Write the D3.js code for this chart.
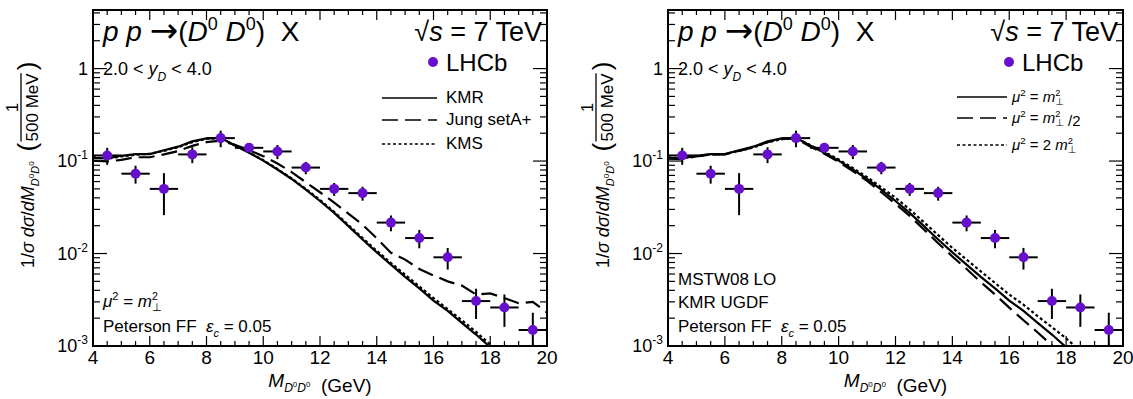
<!DOCTYPE html>
<html>
<head>
<meta charset="utf-8">
<script src="https://cdn.jsdelivr.net/npm/d3@7"></script>
<style>
  body { margin: 0; background: #fff; }
  text { font-family: "Liberation Sans", Arial, Helvetica, sans-serif; fill: #000; }
</style>
</head>
<body>
<svg width="1133" height="399"></svg>
<script>
// LHCb points, 1 GeV bins
var massBins = [4.5, 5.5, 6.5, 7.5, 8.5, 9.5, 10.5, 11.5, 12.5, 13.5, 14.5, 15.5, 16.5, 17.5, 18.5, 19.5];
var lhcbValues = [0.115, 0.073, 0.050, 0.118, 0.177, 0.139, 0.127, 0.085, 0.050, 0.045, 0.0216, 0.0147, 0.0091, 0.00306, 0.00261, 0.00149];
var lhcbErrors = [0.024, 0.016, 0.024, 0.023, 0.036, 0.017, 0.022, 0.013, 0.008, 0.0077, 0.0042, 0.0033, 0.0024, 0.0011, 0.0010, 0.0008];

// theory curves, sampled every 0.5 GeV
var curveMass = [4.0, 4.5, 5.0, 5.5, 6.0, 6.5, 7.0, 7.5, 8.0, 8.5, 9.0, 9.5, 10.0, 10.5, 11.0, 11.5, 12.0,
  12.5, 13.0, 13.5, 14.0, 14.5, 15.0, 15.5, 16.0, 16.5, 17.0, 17.5, 18.0, 18.5, 19.0, 19.5, 20.0];
var kmrValues = [0.108, 0.107, 0.114, 0.119, 0.119, 0.131, 0.143, 0.163, 0.176, 0.178, 0.147, 0.123, 0.101,
  0.081, 0.064, 0.049, 0.037, 0.0275, 0.0198, 0.0142, 0.0103, 0.0076, 0.0056, 0.0042, 0.0031, 0.0024,
  0.00178, 0.00133, 0.00097, 0.00070, null, null, null];
var jungValues = [0.101, 0.099, 0.103, 0.110, 0.110, 0.118, 0.128, 0.146, 0.160, 0.166, 0.150, 0.131, 0.113,
  0.094, 0.076, 0.059, 0.046, 0.0355, 0.027, 0.0205, 0.0146, 0.0102, 0.0086, 0.0068, 0.0058, 0.0050,
  0.0045, 0.0036, 0.0037, 0.0033, 0.0029, 0.0030, 0.0023];
var kmsValues = [0.110, 0.106, 0.112, 0.117, 0.120, 0.129, 0.141, 0.160, 0.174, 0.177, 0.148, 0.124, 0.102,
  0.082, 0.065, 0.050, 0.038, 0.0282, 0.0204, 0.0147, 0.0107, 0.0079, 0.0059, 0.0044, 0.0033, 0.0025,
  0.00190, 0.00142, 0.00104, 0.00075, null, null, null];
var muNominal = kmrValues;
var muHalf = [0.106, 0.105, 0.112, 0.117, 0.118, 0.129, 0.141, 0.160, 0.174, 0.175, 0.144, 0.120, 0.098,
  0.078, 0.061, 0.046, 0.0345, 0.0255, 0.0182, 0.0129, 0.0093, 0.0068, 0.0049, 0.0036, 0.0026, 0.0019,
  0.0014, 0.00102, 0.00074, null, null, null, null];
var muDouble = [0.109, 0.108, 0.114, 0.118, 0.119, 0.129, 0.140, 0.160, 0.172, 0.176, 0.149, 0.126, 0.104,
  0.084, 0.067, 0.052, 0.040, 0.030, 0.0218, 0.0158, 0.0115, 0.0086, 0.0064, 0.0048, 0.0036, 0.0028,
  0.0021, 0.0016, 0.00121, 0.00088, null, null, null];

var xTicks = [4, 6, 8, 10, 12, 14, 16, 18, 20];
var yTickLabels = [[1e-3, "-3"], [1e-2, "-2"], [1e-1, "-1"], [1, ""]];

var svg = d3.select("svg");
const plotTop = 10, plotBottom = 346;
const purple = "#6610cc";

// math text helpers
function mSquaredPerp(t, fs) {
  t.append("tspan").attr("font-style", "italic").text("m");
  t.append("tspan").attr("font-size", fs * 0.62).attr("dy", -fs * 0.42).text("2");
  t.append("tspan").attr("font-size", fs * 0.66).attr("font-family", "DejaVu Sans")
    .attr("dx", -fs * 0.62 * 0.556).attr("dy", fs * 0.64).text("\u22A5");
  t.append("tspan").attr("dy", -fs * 0.22).text("");
}
function muLabel(t, fs, prefix, suffix) {
  t.append("tspan").attr("font-style", "italic").text("\u03BC");
  t.append("tspan").attr("font-size", fs * 0.65).attr("dy", -fs * 0.42).text("2");
  t.append("tspan").attr("dy", fs * 0.42).text(" = " + prefix);
  mSquaredPerp(t, fs);
  if (suffix) t.append("tspan").text(suffix);
}
function peterson(t, fs) {
  t.append("tspan").text("Peterson FF\u00A0\u00A0");
  t.append("tspan").attr("font-style", "italic").text("\u03B5");
  t.append("tspan").attr("font-style", "italic").attr("font-size", fs * 0.65).attr("dy", fs * 0.3).text("c");
  t.append("tspan").attr("dy", -fs * 0.3).text(" = 0.05");
}

var panels = [
  {
    x0: 93, x1: 547,
    curves: [
      { label: t => t.text("KMR"), values: kmrValues, dash: null },
      { label: t => t.text("Jung setA+"), values: jungValues, dash: "16,7" },
      { label: t => t.text("KMS"), values: kmsValues, dash: "3,2.5" }
    ],
    legendFont: 17,
    legendLine: [382, 437], legendText: 446, legendY: [98, 120, 144],
    notes: [
      { y: 307, draw: t => muLabel(t, 17, "", "") },
      { y: 332, draw: t => peterson(t, 17) }
    ]
  },
  {
    x0: 668, x1: 1123,
    curves: [
      { label: t => muLabel(t, 15, "", ""), values: muNominal, dash: null },
      { label: t => muLabel(t, 15, "", " /2"), values: muHalf, dash: "16,7" },
      { label: t => muLabel(t, 15, "2 ", ""), values: muDouble, dash: "3,2.5" }
    ],
    legendFont: 15,
    legendLine: [957, 1007], legendText: 1012, legendY: [97, 118, 145],
    notes: [
      { y: 285, draw: t => t.text("MSTW08 LO") },
      { y: 308, draw: t => t.text("KMR UGDF") },
      { y: 332, draw: t => peterson(t, 17) }
    ]
  }
];

panels.forEach(function(p, i) {
  var x = d3.scaleLinear().domain([4, 20]).range([p.x0, p.x1]);
  var y = d3.scaleLog().domain([1e-3, 4.3]).range([plotBottom, plotTop]);
  var g = svg.append("g");

  g.append("clipPath").attr("id", "clip" + i)
    .append("rect").attr("x", p.x0).attr("y", plotTop)
    .attr("width", p.x1 - p.x0).attr("height", plotBottom - plotTop);

  // ticks, inside the frame on all four sides
  var minorX = d3.range(4, 20.01, 0.5);
  var yAll = y.ticks();
  var isMajor = v => Math.abs(Math.log10(v) - Math.round(Math.log10(v))) < 1e-6;
  var ticks = g.append("g").attr("stroke", "#000").attr("stroke-width", 1.2);
  minorX.forEach(function(v) {
    var len = (v % 2 === 0) ? 10 : 5;
    ticks.append("line").attr("x1", x(v)).attr("x2", x(v)).attr("y1", plotBottom).attr("y2", plotBottom - len);
    ticks.append("line").attr("x1", x(v)).attr("x2", x(v)).attr("y1", plotTop).attr("y2", plotTop + len);
  });
  yAll.forEach(function(v) {
    var len = isMajor(v) ? 14 : 7;
    ticks.append("line").attr("x1", p.x0).attr("x2", p.x0 + len).attr("y1", y(v)).attr("y2", y(v));
    ticks.append("line").attr("x1", p.x1).attr("x2", p.x1 - len).attr("y1", y(v)).attr("y2", y(v));
  });

  // frame
  g.append("rect").attr("x", p.x0).attr("y", plotTop)
    .attr("width", p.x1 - p.x0).attr("height", plotBottom - plotTop)
    .attr("fill", "none").attr("stroke", "#000").attr("stroke-width", 2);

  // x tick labels
  g.selectAll(".xl").data(xTicks).enter().append("text")
    .attr("x", d => x(d)).attr("y", 364).attr("text-anchor", "middle")
    .attr("font-size", 19).text(d => d);

  // y tick labels
  yTickLabels.forEach(function(d) {
    var t = g.append("text").attr("x", p.x0 - 5).attr("y", y(d[0]) + 6)
      .attr("text-anchor", "end").attr("font-size", 18);
    if (d[1] === "") { t.text("1"); return; }
    t.append("tspan").text("10");
    t.append("tspan").attr("font-size", 12).attr("dy", -8).text(d[1]);
  });

  // x title
  var xt = g.append("text").attr("x", (p.x0 + p.x1) / 2).attr("y", 387)
    .attr("text-anchor", "middle").attr("font-size", 19);
  xt.append("tspan").attr("font-style", "italic").text("M");
  xt.append("tspan").attr("font-size", 12).attr("font-style", "italic").attr("dy", 5).text("D");
  xt.append("tspan").attr("font-size", 8).attr("dy", -5).text("0");
  xt.append("tspan").attr("font-size", 12).attr("font-style", "italic").attr("dy", 5).text("D");
  xt.append("tspan").attr("font-size", 8).attr("dy", -5).text("0");
  xt.append("tspan").attr("dy", 5).text("\u00A0\u00A0(GeV)");

  // y title, rotated
  var yt = g.append("g").attr("transform", "translate(" + (p.x0 - 59) + ",268) rotate(-90)");
  var main = yt.append("text").attr("x", 0).attr("y", 0).attr("font-size", 18);
  main.append("tspan").text("1/");
  main.append("tspan").attr("font-style", "italic").text("\u03C3 d\u03C3");
  main.append("tspan").text("/");
  main.append("tspan").attr("font-style", "italic").text("dM");
  main.append("tspan").attr("font-size", 11).attr("font-style", "italic").attr("dy", 5).text("D");
  main.append("tspan").attr("font-size", 8).attr("dy", -5).text("0");
  main.append("tspan").attr("font-size", 11).attr("font-style", "italic").attr("dy", 5).text("D");
  main.append("tspan").attr("font-size", 8).attr("dy", -5).text("0");
  var w = main.node().getComputedTextLength();
  var fx = w + 10;
  yt.append("text").attr("x", fx).attr("y", 2).attr("font-size", 26).text("(");
  var fracX = fx + 10;
  var den = yt.append("text").attr("x", fracX).attr("y", 4).attr("font-size", 17).text("500 MeV");
  var dw = den.node().getComputedTextLength();
  yt.append("line").attr("x1", fracX).attr("x2", fracX + dw).attr("y1", -13).attr("y2", -13)
    .attr("stroke", "#000").attr("stroke-width", 1.3);
  yt.append("text").attr("x", fracX + dw / 2).attr("y", -16).attr("text-anchor", "middle")
    .attr("font-size", 17).text("1");
  yt.append("text").attr("x", fracX + dw + 3).attr("y", 2).attr("font-size", 26).text(")");

  // curves
  var plot = g.append("g").attr("clip-path", "url(#clip" + i + ")");
  p.curves.forEach(function(c) {
    var line = d3.line()
      .defined((d, k) => c.values[k] != null)
      .x(d => x(d))
      .y((d, k) => y(c.values[k]));
    plot.append("path").datum(curveMass).attr("d", line)
      .attr("fill", "none").attr("stroke", "#000").attr("stroke-width", 2.2)
      .attr("stroke-dasharray", c.dash);
  });

  // data points with error bars
  var pts = plot.selectAll(".pt").data(massBins).enter().append("g");
  pts.append("line").attr("x1", d => x(d - 0.5)).attr("x2", d => x(d + 0.5))
    .attr("y1", (d, k) => y(lhcbValues[k])).attr("y2", (d, k) => y(lhcbValues[k]))
    .attr("stroke", "#000").attr("stroke-width", 2);
  pts.append("line").attr("x1", d => x(d)).attr("x2", d => x(d))
    .attr("y1", (d, k) => y(lhcbValues[k] + lhcbErrors[k]))
    .attr("y2", (d, k) => y(Math.max(lhcbValues[k] - lhcbErrors[k], 1e-4)))
    .attr("stroke", "#000").attr("stroke-width", 2);
  pts.append("circle").attr("cx", d => x(d)).attr("cy", (d, k) => y(lhcbValues[k]))
    .attr("r", 5).attr("fill", purple);

  // title
  var tt = g.append("text").attr("x", p.x0 + 10).attr("y", 41).attr("font-size", 28);
  tt.append("tspan").attr("font-style", "italic").text("p p ");
  tt.append("tspan").attr("font-family", "DejaVu Sans").attr("font-size", 34).attr("dy", 1).text("\u2192");
  tt.append("tspan").attr("dy", -1).text("(");
  tt.append("tspan").attr("font-style", "italic").text("D");
  tt.append("tspan").attr("font-size", 18).attr("dy", -11).text("0");
  tt.append("tspan").attr("dy", 11).text(" ");
  tt.append("tspan").attr("font-style", "italic").text("D");
  tt.append("tspan").attr("font-size", 18).attr("dy", -11).text("0");
  tt.append("tspan").attr("dy", 11).text(")\u00A0 X");

  var st = g.append("text").attr("x", p.x1 - 5).attr("y", 41).attr("font-size", 27).attr("text-anchor", "end");
  st.append("tspan").text("\u221A");
  st.append("tspan").attr("font-style", "italic").text("s");
  st.append("tspan").text(" = 7 TeV");

  // rapidity range
  var ry = g.append("text").attr("x", p.x0 + 10).attr("y", 75).attr("font-size", 18);
  ry.append("tspan").text("2.0 < ");
  ry.append("tspan").attr("font-style", "italic").text("y");
  ry.append("tspan").attr("font-style", "italic").attr("font-size", 12).attr("dy", 6).text("D");
  ry.append("tspan").attr("dy", -6).text(" < 4.0");

  // legend
  g.append("circle").attr("cx", p.x1 - 114).attr("cy", 62).attr("r", 5).attr("fill", purple);
  g.append("text").attr("x", p.x1 - 101).attr("y", 71).attr("font-size", 24).text("LHCb");
  p.curves.forEach(function(c, k) {
    g.append("line").attr("x1", p.legendLine[0]).attr("x2", p.legendLine[1])
      .attr("y1", p.legendY[k]).attr("y2", p.legendY[k])
      .attr("stroke", "#000").attr("stroke-width", 1.5).attr("stroke-dasharray", c.dash);
    var t = g.append("text").attr("x", p.legendText).attr("y", p.legendY[k] + 5).attr("font-size", p.legendFont);
    c.label(t);
  });

  // annotations bottom left
  p.notes.forEach(function(n) {
    var t = g.append("text").attr("x", p.x0 + 10).attr("y", n.y).attr("font-size", 17);
    n.draw(t);
  });
});
</script>
</body>
</html>
